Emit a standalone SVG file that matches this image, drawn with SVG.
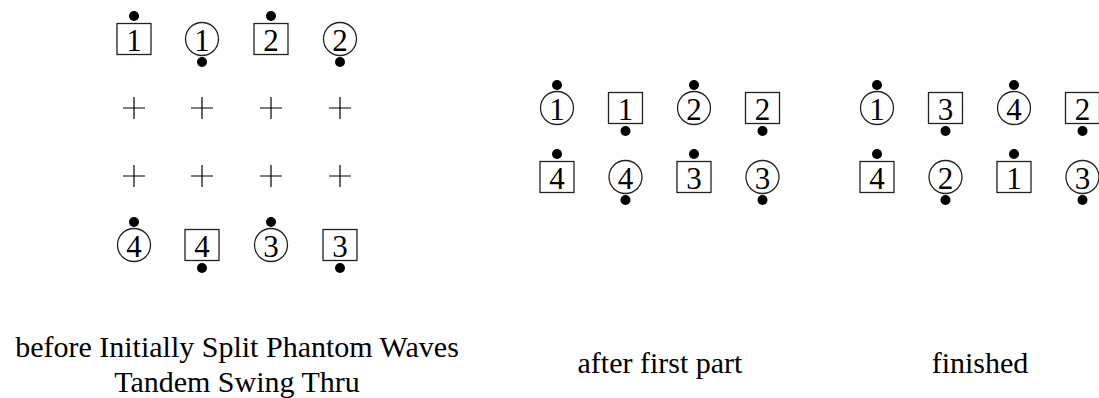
<svg xmlns="http://www.w3.org/2000/svg" width="1099" height="398" viewBox="0 0 1099 398">
  <defs>
    <style>
      .box { fill: #fff; stroke: #222; stroke-width: 1.3; }
      .ring { fill: #fff; stroke: #222; stroke-width: 1.3; }
      .num { font-family: "Liberation Serif", serif; font-size: 31px; text-anchor: middle; fill: #000; }
      .dot { fill: #000; }
      .plus { stroke: #000; stroke-width: 1.2; fill: none; }
      .label { font-family: "Liberation Serif", serif; font-size: 30px; text-anchor: middle; fill: #000; }
    </style>
    <!-- dancer shapes, centred on the origin -->
    <rect id="sq" class="box" x="-17" y="-15.5" width="34" height="31"/>
    <circle id="rd" class="ring" r="16.5"/>
    <circle id="up" class="dot" cy="-23" r="5"/>
    <circle id="dn" class="dot" cy="23" r="5"/>
    <path id="spot" class="plus" d="M-11 0H11M0 -11V11"/>
  </defs>

  <!-- before: initially split phantom waves -->
  <g id="before">
    <g id="b-box1" transform="translate(134 39)"><use href="#sq"/><use href="#up"/><text class="num" y="11.5">1</text></g>
    <g id="b-ring1" transform="translate(202 39)"><use href="#rd"/><use href="#dn"/><text class="num" y="11.5">1</text></g>
    <g id="b-box2" transform="translate(271 39)"><use href="#sq"/><use href="#up"/><text class="num" y="11.5">2</text></g>
    <g id="b-ring2" transform="translate(340 39)"><use href="#rd"/><use href="#dn"/><text class="num" y="11.5">2</text></g>

    <g id="b-spots">
      <use href="#spot" x="134" y="108"/><use href="#spot" x="202" y="108"/>
      <use href="#spot" x="271" y="108"/><use href="#spot" x="340" y="108"/>
      <use href="#spot" x="134" y="176"/><use href="#spot" x="202" y="176"/>
      <use href="#spot" x="271" y="176"/><use href="#spot" x="340" y="176"/>
    </g>

    <g id="b-ring4" transform="translate(134 245)"><use href="#rd"/><use href="#up"/><text class="num" y="11.5">4</text></g>
    <g id="b-box4" transform="translate(202 245)"><use href="#sq"/><use href="#dn"/><text class="num" y="11.5">4</text></g>
    <g id="b-ring3" transform="translate(271 245)"><use href="#rd"/><use href="#up"/><text class="num" y="11.5">3</text></g>
    <g id="b-box3" transform="translate(340 245)"><use href="#sq"/><use href="#dn"/><text class="num" y="11.5">3</text></g>
  </g>

  <!-- after first part -->
  <g id="middle">
    <g id="m-ring1" transform="translate(557 108)"><use href="#rd"/><use href="#up"/><text class="num" y="11.5">1</text></g>
    <g id="m-box1" transform="translate(625.5 108)"><use href="#sq"/><use href="#dn"/><text class="num" y="11.5">1</text></g>
    <g id="m-ring2" transform="translate(694 108)"><use href="#rd"/><use href="#up"/><text class="num" y="11.5">2</text></g>
    <g id="m-box2" transform="translate(762.5 108)"><use href="#sq"/><use href="#dn"/><text class="num" y="11.5">2</text></g>
    <g id="m-box4" transform="translate(557 177)"><use href="#sq"/><use href="#up"/><text class="num" y="11.5">4</text></g>
    <g id="m-ring4" transform="translate(625.5 177)"><use href="#rd"/><use href="#dn"/><text class="num" y="11.5">4</text></g>
    <g id="m-box3" transform="translate(694 177)"><use href="#sq"/><use href="#up"/><text class="num" y="11.5">3</text></g>
    <g id="m-ring3" transform="translate(762.5 177)"><use href="#rd"/><use href="#dn"/><text class="num" y="11.5">3</text></g>
  </g>

  <!-- finished -->
  <g id="final">
    <g id="f-ring1" transform="translate(877 108)"><use href="#rd"/><use href="#up"/><text class="num" y="11.5">1</text></g>
    <g id="f-box3" transform="translate(945.5 108)"><use href="#sq"/><use href="#dn"/><text class="num" y="11.5">3</text></g>
    <g id="f-ring4" transform="translate(1014 108)"><use href="#rd"/><use href="#up"/><text class="num" y="11.5">4</text></g>
    <g id="f-box2" transform="translate(1082.5 108)"><use href="#sq"/><use href="#dn"/><text class="num" y="11.5">2</text></g>
    <g id="f-box4" transform="translate(877 177)"><use href="#sq"/><use href="#up"/><text class="num" y="11.5">4</text></g>
    <g id="f-ring2" transform="translate(945.5 177)"><use href="#rd"/><use href="#dn"/><text class="num" y="11.5">2</text></g>
    <g id="f-box1" transform="translate(1014 177)"><use href="#sq"/><use href="#up"/><text class="num" y="11.5">1</text></g>
    <g id="f-ring3" transform="translate(1082.5 177)"><use href="#rd"/><use href="#dn"/><text class="num" y="11.5">3</text></g>
  </g>

  <g id="connectors"/>

  <!-- captions, each centred under its formation -->
  <g id="captions">
    <text class="label" x="237" y="357">before Initially Split Phantom Waves</text>
    <text class="label" x="237" y="392">Tandem Swing Thru</text>
    <text class="label" x="660" y="373">after first part</text>
    <text class="label" x="980" y="373">finished</text>
  </g>
</svg>
